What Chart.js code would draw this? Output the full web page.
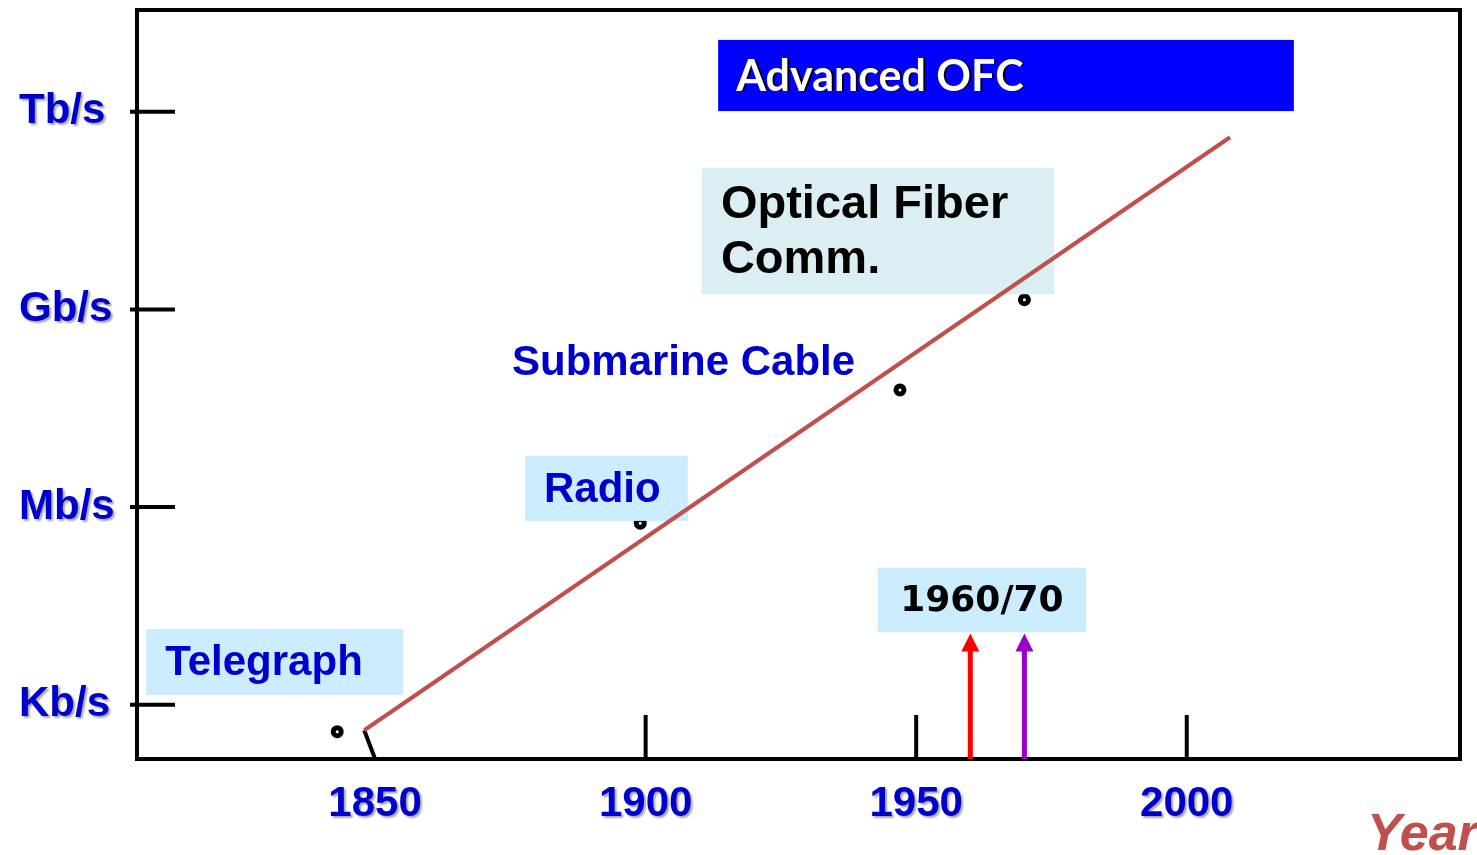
<!DOCTYPE html>
<html>
<head>
<meta charset="utf-8">
<title>Communication bit rate over time</title>
<script src="https://cdn.jsdelivr.net/npm/chart.js@4.4.1/dist/chart.umd.min.js"></script>
<style>
  html, body { margin: 0; padding: 0; background: #fff; }
  #wrap { width: 1477px; height: 855px; }
</style>
</head>
<body>
<div id="wrap"><canvas id="c" width="1477" height="855"></canvas></div>
<script>
// Year axis ticks and bit-rate axis ticks (bit/s)
const yearTicks = [1850, 1900, 1950, 2000];
const rateTicks = [1e3, 1e6, 1e9, 1e12];
const rateLabels = ['Kb/s', 'Mb/s', 'Gb/s', 'Tb/s'];

// Overall growth trend (start and end of the line)
const trendYears = [1848, 2008];
const trendRates = [410, 4.1e11];

// Milestones: telegraph, radio, submarine cable, optical fibre
const milestoneYears = [1843, 1899, 1947, 1970];
const milestoneRates = [390, 5.7e5, 6.0e7, 1.4e9];

// Breakthrough years marked by arrows (laser 1960, low-loss fibre 1970)
const arrowYears = [1960, 1970];
const arrowRates = [1.2e4, 1.2e4];

const BLUE_TEXT = '#0000CC';
const LABEL_FONT = 'bold 42px "Liberation Sans", Arial, sans-serif';

// Text boxes placed in data space (years / bit rate)
const notes = [
  { lines: ['Telegraph'], x0: 1807.7, x1: 1855.2, top: 10 ** 4.15, bottom: 10 ** 3.15,
    fill: '#CCECFF', color: BLUE_TEXT, font: LABEL_FONT, pad: 19, lineGap: 0 },
  { lines: ['Radio'], x0: 1877.7, x1: 1907.8, top: 10 ** 6.78, bottom: 10 ** 5.79,
    fill: '#CCECFF', color: BLUE_TEXT, font: LABEL_FONT, pad: 19, lineGap: 0 },
  { lines: ['Submarine Cable'], x0: 1875.3, x1: 1940, top: 10 ** 8.5, bottom: 10 ** 7.93,
    fill: null, color: BLUE_TEXT, font: LABEL_FONT, pad: 0, lineGap: 0 },
  { lines: ['Optical Fiber', 'Comm.'], x0: 1910.4, x1: 1975.5, top: 10 ** 11.15, bottom: 10 ** 9.23,
    fill: '#DAEEF3', color: '#000000', font: 'bold 47px "Liberation Sans", Arial, sans-serif', pad: 19, lineGap: 55 },
  { lines: ['Advanced OFC'], x0: 1913.4, x1: 2019.8, top: 10 ** 13.09, bottom: 10 ** 12.01,
    fill: '#0000FF', color: '#FFFFFF', font: 'bold 43px Lato, "Open Sans", sans-serif', pad: 18, lineGap: 0, shadow: true },
  { lines: ['1960/70'], x0: 1942.9, x1: 1981.4, top: 10 ** 5.08, bottom: 10 ** 4.10,
    fill: '#CCECFF', color: '#000000', font: 'bold 36px "DejaVu Sans", Verdana, sans-serif', pad: 0, lineGap: 0, center: true }
];

const arrowColors = ['#FF0000', '#9900CC'];

const trendData = trendYears.map((x, i) => ({ x, y: trendRates[i] }));
const milestoneData = milestoneYears.map((x, i) => ({ x, y: milestoneRates[i] }));

// Drop shadow for the axis tick labels only
const labelShadow = {
  id: 'labelShadow',
  beforeDraw(chart) {
    const ctx = chart.ctx;
    ctx.shadowColor = 'rgba(0,0,0,0.35)';
    ctx.shadowOffsetX = 2;
    ctx.shadowOffsetY = 2;
    ctx.shadowBlur = 2;
  },
  beforeDatasetsDraw(chart) {
    const ctx = chart.ctx;
    ctx.shadowColor = 'rgba(0,0,0,0)';
    ctx.shadowOffsetX = 0;
    ctx.shadowOffsetY = 0;
    ctx.shadowBlur = 0;
  }
};

// Plot frame and tick marks
const frame = {
  id: 'frame',
  beforeDatasetsDraw(chart) {
    const { ctx, chartArea: a, scales: { x, y } } = chart;
    ctx.save();
    ctx.strokeStyle = '#000';
    ctx.lineWidth = 4;
    ctx.lineCap = 'butt';
    ctx.strokeRect(a.left, a.top, a.right - a.left, a.bottom - a.top);
    // bit-rate ticks crossing the left edge
    rateTicks.forEach(v => {
      const py = y.getPixelForValue(v);
      ctx.beginPath();
      ctx.moveTo(a.left - 7, py);
      ctx.lineTo(a.left + 38, py);
      ctx.stroke();
    });
    // year ticks rising from the bottom edge; the first joins the trend line start
    yearTicks.forEach((v, i) => {
      const px = x.getPixelForValue(v);
      ctx.beginPath();
      ctx.moveTo(px, a.bottom);
      if (i === 0) {
        ctx.lineTo(x.getPixelForValue(trendYears[0]), y.getPixelForValue(trendRates[0]));
      } else {
        ctx.lineTo(px, a.bottom - 44);
      }
      ctx.stroke();
    });
    ctx.restore();
  }
};

// Labelled boxes, drawn just before the trend line
const noteBoxes = {
  id: 'noteBoxes',
  beforeDatasetDraw(chart, args) {
    if (args.index !== 0) return;
    const { ctx, scales: { x, y } } = chart;
    ctx.save();
    notes.forEach(n => {
      const l = x.getPixelForValue(n.x0), r = x.getPixelForValue(n.x1);
      const t = y.getPixelForValue(n.top), b = y.getPixelForValue(n.bottom);
      if (n.fill) {
        ctx.fillStyle = n.fill;
        ctx.fillRect(l, t, r - l, b - t);
      }
      ctx.font = n.font;
      ctx.fillStyle = n.color;
      ctx.textBaseline = 'middle';
      ctx.textAlign = n.center ? 'center' : 'left';
      const tx = n.center ? (l + r) / 2 : l + n.pad;
      const cy = (t + b) / 2;
      n.lines.forEach((line, k) => {
        const ly = cy + (k - (n.lines.length - 1) / 2) * n.lineGap;
        if (n.shadow) {
          ctx.save();
          ctx.fillStyle = '#000';
          ctx.fillText(line, tx + 2, ly + 2);
          ctx.restore();
        }
        ctx.fillText(line, tx, ly + 2);
      });
    });
    ctx.restore();
  }
};

// Upward arrows marking breakthrough years, plus the axis name
const arrows = {
  id: 'arrows',
  afterDatasetsDraw(chart) {
    const { ctx, chartArea: a, scales: { x, y } } = chart;
    ctx.save();
    arrowYears.forEach((yr, i) => {
      const px = x.getPixelForValue(yr);
      const tip = y.getPixelForValue(arrowRates[i]);
      ctx.strokeStyle = arrowColors[i];
      ctx.fillStyle = arrowColors[i];
      ctx.lineWidth = 5;
      ctx.beginPath();
      ctx.moveTo(px, a.bottom);
      ctx.lineTo(px, tip + 14);
      ctx.stroke();
      ctx.beginPath();
      ctx.moveTo(px, tip);
      ctx.lineTo(px - 9, tip + 18);
      ctx.lineTo(px + 9, tip + 18);
      ctx.closePath();
      ctx.fill();
    });
    ctx.font = 'italic bold 52px "Liberation Sans", Arial, sans-serif';
    ctx.fillStyle = '#C0504D';
    ctx.textAlign = 'left';
    ctx.textBaseline = 'alphabetic';
    ctx.fillText('Year', a.right - 93, chart.height - 5);
    ctx.restore();
  }
};

new Chart(document.getElementById('c'), {
  type: 'scatter',
  data: {
    datasets: [
      {
        label: 'Trend',
        data: trendData,
        showLine: true,
        borderColor: '#C0504D',
        borderWidth: 4,
        pointRadius: 0,
        order: 1
      },
      {
        label: 'Milestones',
        data: milestoneData,
        showLine: false,
        pointRadius: 4,
        pointBorderWidth: 5,
        pointBackgroundColor: '#FFFFFF',
        pointBorderColor: '#000000',
        order: 2
      }
    ]
  },
  options: {
    responsive: false,
    animation: false,
    events: [],
    layout: { padding: { top: 10, right: 17, left: 19, bottom: 0 } },
    plugins: { legend: { display: false }, tooltip: { enabled: false } },
    scales: {
      x: {
        type: 'linear',
        min: 1806,
        max: 2050.5,
        grid: { display: false, drawTicks: false },
        border: { display: false },
        afterBuildTicks: s => { s.ticks = yearTicks.map(v => ({ value: v })); },
        afterFit: s => { s.height = 96; s.paddingLeft = 0; s.paddingRight = 0; },
        ticks: {
          callback: v => String(v),
          color: BLUE_TEXT,
          font: { family: '"Liberation Sans", Arial, sans-serif', size: 42, weight: 'bold' },
          padding: 20,
          maxRotation: 0,
          autoSkip: false
        }
      },
      y: {
        type: 'logarithmic',
        min: 150,
        max: 3.5e13,
        grid: { display: false, drawTicks: false },
        border: { display: false },
        afterBuildTicks: s => { s.ticks = rateTicks.map(v => ({ value: v })); },
        afterFit: s => { s.width = 137 - 19; s.paddingTop = 0; s.paddingBottom = 0; },
        ticks: {
          callback: v => rateLabels[rateTicks.indexOf(v)] ?? '',
          color: BLUE_TEXT,
          font: { family: '"Liberation Sans", Arial, sans-serif', size: 42, weight: 'bold' },
          crossAlign: 'far',
          autoSkip: false
        }
      }
    }
  },
  plugins: [labelShadow, frame, noteBoxes, arrows]
});
</script>
</body>
</html>
